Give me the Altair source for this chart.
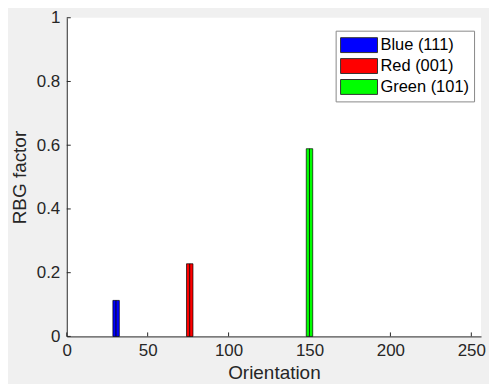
import altair as alt
import pandas as pd

# Data
series = ["Blue (111)", "Red (001)", "Green (101)"]
series_colors = ["#0000ff", "#ff0000", "#00ff00"]
bin_starts = [[28.5, 30.5], [74.0, 76.0], [148.0, 150.0]]
bin_width = 2.0
factors = [0.113, 0.228, 0.589]
x_ticks = [0, 50, 100, 150, 200, 250]
y_ticks = [0, 0.2, 0.4, 0.6, 0.8, 1]

rows = []
for s, starts, v in zip(series, bin_starts, factors):
    for b in starts:
        rows.append({"series": s, "x0": b, "x1": b + bin_width, "factor": v})
df = pd.DataFrame(rows)

W, H = 416, 320
FONT = "Liberation Sans"
TXT = "#262626"

xscale = alt.Scale(domain=[0, 256], nice=False, zero=False)
yscale = alt.Scale(domain=[0, 1], nice=False)

path = "M-2.06,-0.83H2.06V0.83H-2.06Z"

bars = alt.Chart(df).mark_bar(stroke="black", strokeWidth=0.8, strokeOpacity=0.85).encode(
    x=alt.X("x0:Q", scale=xscale, title="Orientation",
            axis=alt.Axis(values=x_ticks, tickSize=0, labelPadding=6, grid=False,
                          domainColor=TXT, labelColor=TXT, titleColor=TXT,
                          labelFont=FONT, titleFont=FONT, labelFontSize=17,
                          titleFontSize=19, titleFontWeight="normal", titlePadding=5,
                          labelFlush=False, format="d")),
    x2="x1:Q",
    y=alt.Y("factor:Q", scale=yscale, title="RBG factor",
            axis=alt.Axis(values=y_ticks, tickSize=0, labelPadding=7, grid=False,
                          domainColor=TXT, labelColor=TXT, titleColor=TXT,
                          labelFont=FONT, titleFont=FONT, labelFontSize=17,
                          titleFontSize=19, titleFontWeight="normal", titlePadding=7,
                          labelFlush=False, format="~g")),
    y2=alt.datum(0),
    fill=alt.Fill("series:N", sort=series,
                  scale=alt.Scale(domain=series, range=series_colors),
                  legend=alt.Legend(title=None, orient="none", legendX=270, legendY=13,
                                    symbolType=path, symbolSize=324, symbolOffset=9,
                                    symbolStrokeColor="#333", symbolStrokeWidth=1,
                                    labelFont=FONT, labelFontSize=16.5, labelColor="black",
                                    labelOffset=12, rowPadding=2,
                                    fillColor="white", strokeColor="#888",
                                    padding=5, symbolOpacity=1)),
)

xt = alt.Chart(pd.DataFrame({"t": x_ticks})).mark_rule(color=TXT, strokeWidth=1).encode(
    x=alt.X("t:Q", scale=xscale), y=alt.value(H), y2=alt.value(H - 4))
yt = alt.Chart(pd.DataFrame({"t": y_ticks})).mark_rule(color=TXT, strokeWidth=1).encode(
    y=alt.Y("t:Q", scale=yscale), x=alt.value(0), x2=alt.value(4))

chart = alt.layer(bars, xt, yt).properties(
    width=W, height=H, background="#f0f0f0",
    autosize=alt.AutoSizeParams(type="none"),
    padding={"left": 59, "top": 9, "right": 8, "bottom": 47},
).configure_view(fill="white", stroke=None)

chart.save("out.html", embed_options={"renderer": "svg", "actions": False})
